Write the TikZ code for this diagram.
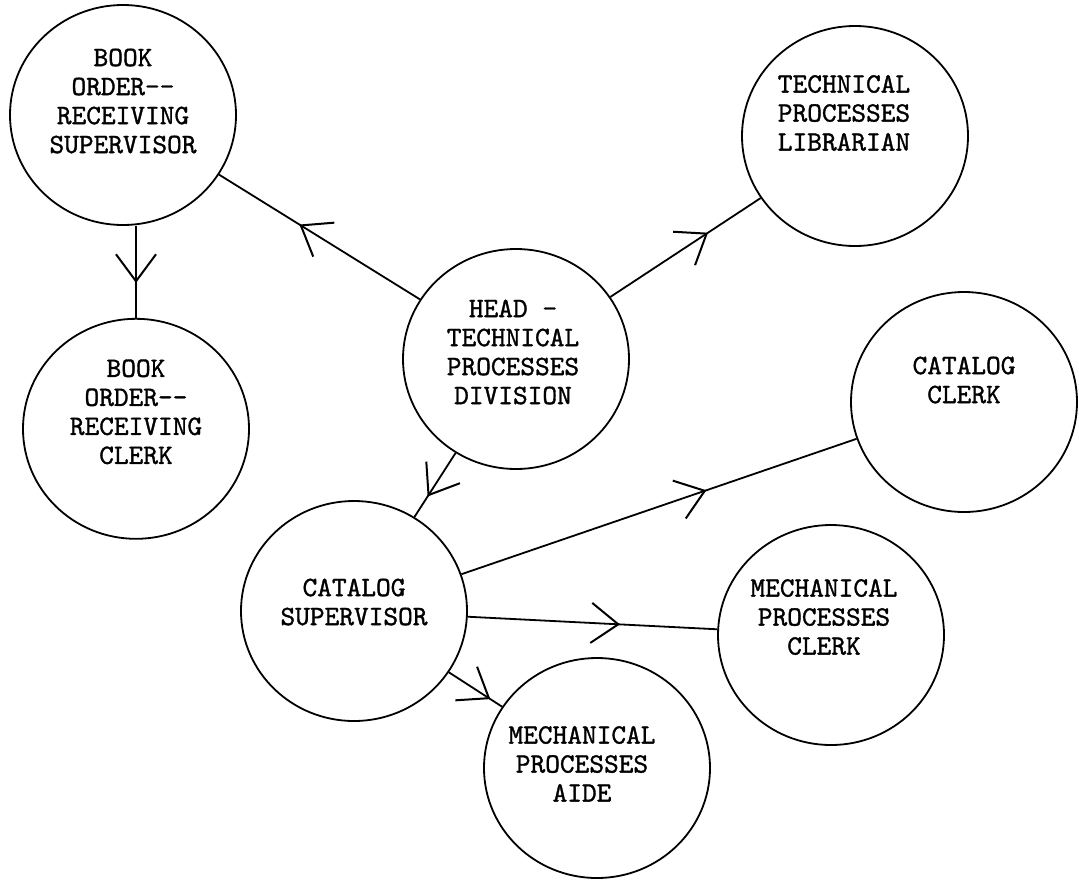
\documentclass[tikz,border=0pt]{standalone}
\usepackage{fontspec}
\usepackage{tikz}
\usetikzlibrary{shapes.geometric, arrows.meta, decorations.markings, positioning}
\newfontfamily\typerfont{lmmono10-regular.otf}[FakeBold=1.2]

% text block inside a circle: #1 horizontal push (twice the shift), #2 lift, #3 lines
\newcommand{\roletext}[3]{\raisebox{\dimexpr#2-10pt\relax}[0pt][0pt]{\hspace*{#1}\begin{tabular}{@{}c@{}}#3\end{tabular}}}

\begin{document}
\begin{tikzpicture}[
    x=1pt, y=-1pt,
    role/.style={draw, ellipse, minimum width=226pt, minimum height=220pt, inner sep=0pt,
                 line width=1.8pt, font=\typerfont\fontsize{28}{29}\selectfont},
    arrow/.style={line width=1.8pt, postaction={decorate},
                  decoration={markings, mark=at position #1 with
                    {\arrow{Straight Barb[length=27pt, width=40pt, line width=2pt]}}}}
  ]
    \useasboundingbox (0,0) rectangle (1079,879);

    % Division head
    \node[role] (head) at (516,359)
      {\roletext{-6pt}{8pt}{HEAD \textemdash\\TECHNICAL\\PROCESSES\\DIVISION}};

    % Book order side
    \node[role] (bos) at (123,115)
      {\roletext{0pt}{15pt}{BOOK\\ORDER--\\RECEIVING\\SUPERVISOR}};
    \node[role, below=92pt of bos, xshift=13pt] (borc)
      {\roletext{0pt}{18pt}{BOOK\\ORDER--\\RECEIVING\\CLERK}};

    % Librarian
    \node[role] (tpl) at (855,136)
      {\roletext{-22pt}{24pt}{TECHNICAL\\PROCESSES\\LIBRARIAN}};

    % Catalog side
    \node[role] (cs) at (354,611) {\roletext{0pt}{10pt}{CATALOG\\SUPERVISOR}};
    \node[role] (cc) at (964,402) {\roletext{0pt}{23pt}{CATALOG\\CLERK}};
    \node[role] (mpc) at (831,635)
      {\roletext{-14pt}{19pt}{MECHANICAL\\PROCESSES\\CLERK}};
    \node[role] (mpa) at (597,768)
      {\roletext{-30pt}{5pt}{MECHANICAL\\PROCESSES\\AIDE}};

    % Lines of authority
    \draw[arrow=0.6] (head) -- (bos);
    \draw[arrow=0.65] (head) -- (tpl);
    \draw[arrow=0.62] (bos.south -| borc.north) -- (borc.north);
    \draw[arrow=0.68] (head) -- (cs);
    \draw[arrow=0.62] (cs) -- (cc);
    \draw[arrow=0.61] (cs) -- (mpc);
    \draw[arrow=0.78] (cs) -- (mpa);

  \end{tikzpicture}
\end{document}
